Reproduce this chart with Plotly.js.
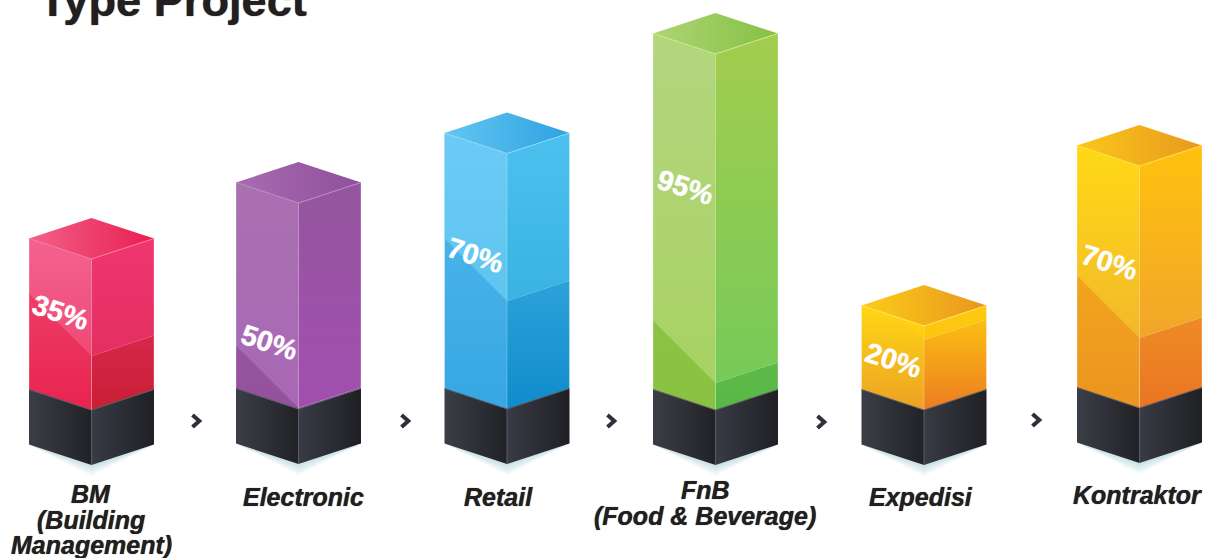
<!DOCTYPE html>
<html><head><meta charset="utf-8">
<script src="https://cdn.plot.ly/plotly-3.0.1.min.js"></script>
<style>html,body{margin:0;padding:0;background:#fff}</style></head>
<body><div id="chart" style="width:1210px;height:558px"></div>
<script>
// ---- data ----
const categories = ["BM (Building Management)", "Electronic", "Retail", "FnB (Food & Beverage)", "Expedisi", "Kontraktor"];
const percents = [35, 50, 70, 95, 20, 70];
// drawn height of the coloured column and of its darker lower band (the picture is not to scale)
const columnHeights = [151, 206, 255.5, 356, 84, 242];
const bandHeights = [54, 1, 108, 27, 70, 70];
const titleText = "Type Project";
const labelLines = [["BM", "(Building", "Management)"], ["Electronic"], ["Retail"], ["FnB", "(Food & Beverage)"], ["Expedisi"], ["Kontraktor"]];

// ---- layout and styling ----
const GROUND_PX = 410;            // pixel row of y = 0
const centers = [91.5, 298.5, 507, 715.5, 924, 1139.5];
const baseLift = [0, 1, 1, 0, 0, 2];
const HALF = 62.5, RISE = 20.5, PLINTH = 55;
const labelX = [91, 303, 498, 705, 921, 1137];
const labelY = [[494, 520, 545], [497], [497], [490, 516], [497], [495]];
const pctX = [60, 269, 475, 685.5, 893.5, 1109];
const pctY = [312, 342, 255, 187, 360, 262];
const chevronX = [196.5, 405.5, 611.5, 821.5, 1036.5];
const chevronY = [421, 421, 421, 422, 420];
const palette = [
 {top:["#f2608a","#e91f50"], lu:["#f4628f","#ee4a75"], ll:["#f04a70","#e8234f"], ru:["#f0366f","#e22f60"], rl:["#d8274c","#c81e34"], edge:"#f77aa5"},
 {top:["#a96bb0","#8e4f9c"], lu:["#a970b0","#a968b6"], ll:["#9a5aa4","#94529c"], ru:["#95569e","#a24fb0"], rl:["#a24fb0","#a24fb0"], edge:"#bd8cc6"},
 {top:["#62c6f2","#2fa2e0"], lu:["#6ccbf6","#5dc5ee"], ll:["#55b8ec","#35a7e4"], ru:["#4cc1ef","#39b3e2"], rl:["#2da1da","#0f8ccb"], edge:"#8ad9f9"},
 {top:["#afd474","#84c144"], lu:["#b3d67e","#a8d263"], ll:["#92c84c","#88c240"], ru:["#a3cd4e","#76ca58"], rl:["#5cba48","#58b846"], edge:"#d2e793"},
 {top:["#fdcc18","#e8961f"], lu:["#ffd60f","#fdc90f"], ll:["#ffd712","#eca126"], ru:["#fdc90f","#fcc511"], rl:["#fcbf12","#ec7c22"], edge:"#ffe45a"},
 {top:["#fbc71a","#e8991f"], lu:["#ffd915","#f2b92a"], ll:["#f6b51f","#ec941f"], ru:["#ffc20e","#f2a52a"], rl:["#ee8b25","#ea7522"], edge:"#ffe04a"}
];
const py = p => GROUND_PX - p;

const traces = [];
function poly(xs, ys, colors, type, fill) {
  const lo = type === "vertical" ? Math.min(...ys) : Math.min(...xs);
  const hi = type === "vertical" ? Math.max(...ys) : Math.max(...xs);
  const t = {x:[...xs, xs[0]], y:[...ys, ys[0]], mode:"lines", fill:"toself", line:{width:0}, hoverinfo:"skip", showlegend:false, type:"scatter"};
  if (colors) {
    // colors[0] is the top (vertical) or left (horizontal) end
    const ends = type === "vertical" ? [colors[1], colors[0]] : colors;
    t.fillgradient = {type:type, start:lo, stop:hi, colorscale:[[0, ends[0]], [1, ends[1]]]};
    t.fillcolor = colors[0];
  } else t.fillcolor = fill;
  traces.push(t);
}
function stroke(xs, ys, color, width) {
  traces.push({x:xs, y:ys, mode:"lines", line:{color:color, width:width}, hoverinfo:"skip", showlegend:false, type:"scatter"});
}

centers.forEach((c, i) => {
  const b = baseLift[i], h = columnHeights[i] + b, band = bandHeights[i] + b, p = palette[i];
  const L = c - HALF, R = c + HALF, bot = b - PLINTH;
  // soft floor shadow
  [10, 8, 6, 4, 2].forEach(d => poly([L + 2, c, R - 2, c], [bot + RISE - 1, bot - d*1.1, bot + RISE - 1, bot + 10], null, null, "rgba(120,175,195,0.08)"));
  // plinth
  poly([L, c, c, L], [b + RISE, b, bot, bot + RISE], ["#3c3e47", "#212226"], "horizontal");
  poly([c, R, R, c], [b, b + RISE, bot + RISE, bot], ["#393b45", "#1f2023"], "horizontal");
  // left face: whole face in the lower colours, then the lit area above the diagonal
  poly([L, c, c, L], [h + RISE, h, b, b + RISE], p.ll, "vertical");
  const d = Math.min(HALF, (h - band) * 1.5);
  if (d < HALF) poly([c, c, c - d], [h, band, band + d], p.lu, "vertical");
  else poly([L, c, c, L], [h + RISE, h, band, band + HALF], p.lu, "vertical");
  // right face
  poly([c, R, R, c], [h, h + RISE, band + RISE, band], p.ru, "vertical");
  poly([c, R, R, c], [band, band + RISE, b + RISE, b], p.rl, "vertical");
  // top face
  poly([L, c, R, c], [h + RISE, h + 2*RISE, h + RISE, h], p.top, "horizontal");
  // highlight edges
  stroke([L, c, R], [h + RISE, h, h + RISE], p.edge, 1);
  stroke([c, c], [h, b], "rgba(255,255,255,0.25)", 1);
  stroke([L, L], [h + RISE, b + RISE], "rgba(255,255,255,0.3)", 1);
  stroke([R, R], [h + RISE, b + RISE], "rgba(255,255,255,0.3)", 1);
  stroke([L, c, R], [b + RISE, b, b + RISE], "#565861", 1);
  stroke([c, c], [b, bot], "#5a5c66", 1);
});

chevronX.forEach((x, i) => {
  const y = py(chevronY[i]);
  stroke([x - 4, x + 2.8, x - 4], [y + 6, y, y - 6], "#2f3038", 4);
});

const annotations = [];
percents.forEach((v, i) => annotations.push({
  x: pctX[i], y: py(pctY[i]), text: v + "%", showarrow:false, textangle:18,
  font:{family:"Liberation Sans", size:28.5, color:"#ffffff", weight:700, shadow:"0 0 1px #ffffff"}, xanchor:"center", yanchor:"middle"
}));
labelLines.forEach((lines, i) => lines.forEach((ln, k) => annotations.push({
  x: labelX[i], y: py(labelY[i][k]), text: ln, showarrow:false,
  font:{family:"Liberation Sans", size:25, color:"#231f20", weight:700, style:"italic", shadow:"0 0 0.8px #231f20"}, xanchor:"center", yanchor:"middle"
})));

Plotly.newPlot("chart", traces, {
  width:1210, height:558, margin:{l:0, r:0, t:0, b:0, pad:0},
  paper_bgcolor:"#ffffff", plot_bgcolor:"#ffffff", showlegend:false, hovermode:false,
  title:{text:titleText, x:39/1210, xanchor:"left", y:1, yanchor:"middle", automargin:false,
         font:{family:"Liberation Sans", size:45.2, color:"#231f20", weight:700, shadow:"0 0 1px #231f20"}},
  xaxis:{range:[0,1210], visible:false, fixedrange:true},
  yaxis:{range:[GROUND_PX-558, GROUND_PX], visible:false, fixedrange:true},
  annotations:annotations
}, {displayModeBar:false, staticPlot:true});
</script></body></html>
